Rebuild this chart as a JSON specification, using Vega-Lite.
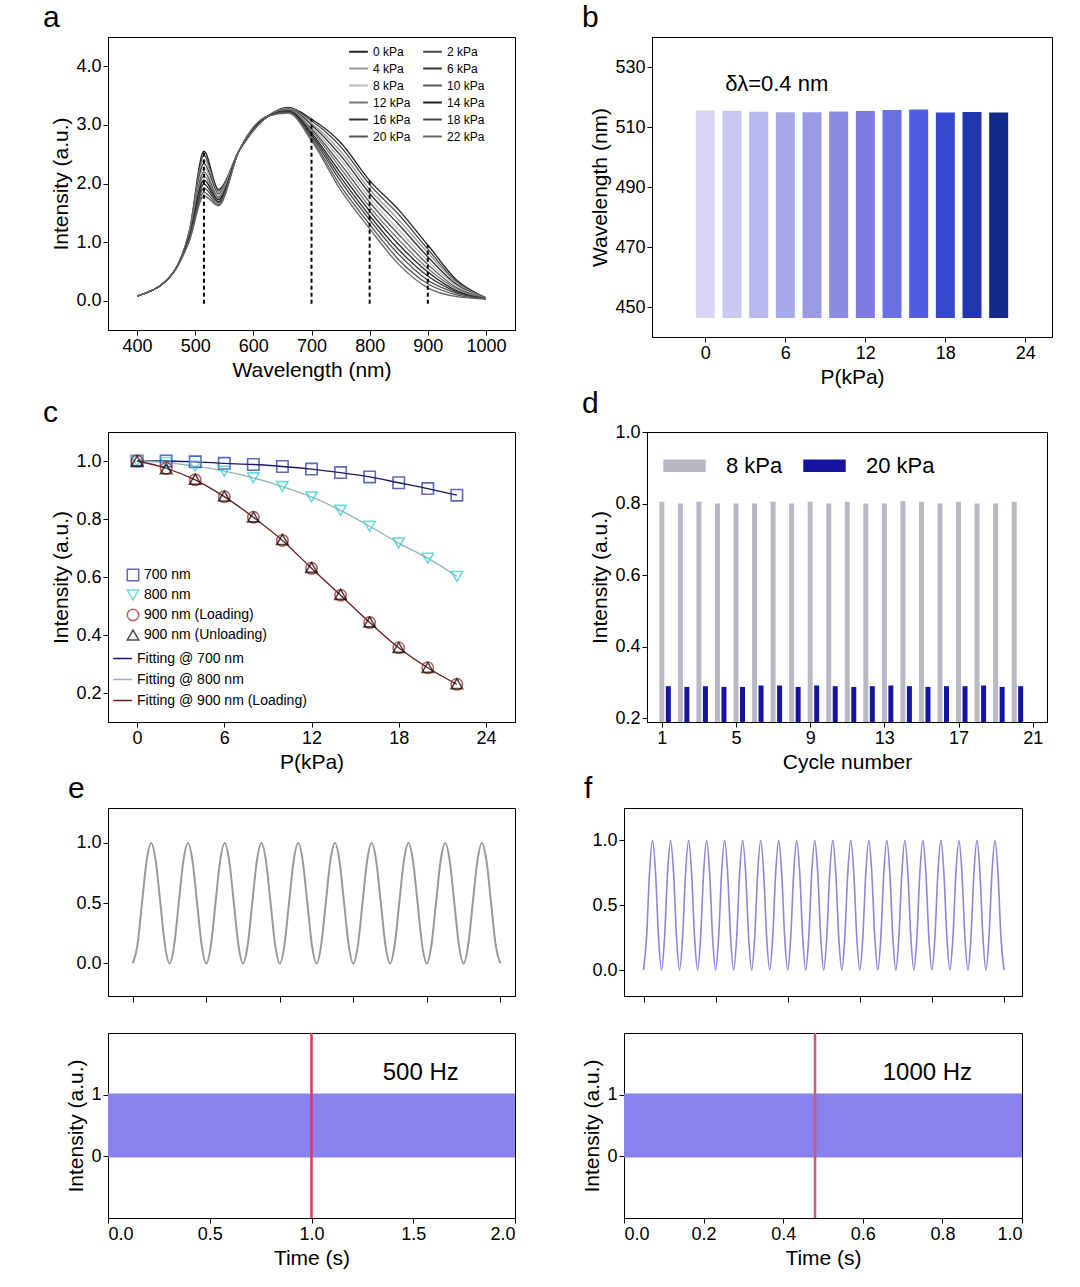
{
  "$schema": "https://vega.github.io/schema/vega-lite/v6.json",
  "background": "white",
  "padding": {"left": 42, "top": 2, "right": 5, "bottom": 2},
  "config": {
    "font": "Liberation Sans",
    "view": {"stroke": "#000", "strokeWidth": 1},
    "axis": {"grid": false, "domainColor": "#000", "tickColor": "#000", "labelColor": "#000", "titleColor": "#000", "labelFontSize": 18, "titleFontSize": 21, "titleFontWeight": "normal", "tickSize": 5, "titlePadding": 4},
    "title": {"fontSize": 30, "fontWeight": "normal", "anchor": "start", "dx": -8, "offset": 0},
    "legend": {"labelFontSize": 12, "title": null}
  },
  "spacing": 0,
  "resolve": {"scale": {"color": "independent", "shape": "independent"}},
  "vconcat": [
    {
      "spacing": 65,
      "resolve": {"scale": {"color": "independent"}},
      "hconcat": [
        {
          "title": "a",
          "width": 407, "height": 293,
          "layer": [
            {
              "data": {"values": [
                {"w":400,"0 kPa":0.08,"2 kPa":0.08,"4 kPa":0.08,"6 kPa":0.08,"8 kPa":0.08,"10 kPa":0.08,"12 kPa":0.08,"14 kPa":0.08,"16 kPa":0.08,"18 kPa":0.08,"20 kPa":0.08,"22 kPa":0.08},
                {"w":460,"0 kPa":0.45,"2 kPa":0.45,"4 kPa":0.45,"6 kPa":0.45,"8 kPa":0.45,"10 kPa":0.45,"12 kPa":0.45,"14 kPa":0.45,"16 kPa":0.45,"18 kPa":0.45,"20 kPa":0.45,"22 kPa":0.45},
                {"w":490,"0 kPa":1.2,"2 kPa":1.18,"4 kPa":1.17,"6 kPa":1.15,"8 kPa":1.13,"10 kPa":1.12,"12 kPa":1.1,"14 kPa":1.09,"16 kPa":1.07,"18 kPa":1.05,"20 kPa":1.04,"22 kPa":1.02},
                {"w":515,"0 kPa":2.55,"2 kPa":2.48,"4 kPa":2.41,"6 kPa":2.34,"8 kPa":2.27,"10 kPa":2.2,"12 kPa":2.13,"14 kPa":2.06,"16 kPa":1.99,"18 kPa":1.92,"20 kPa":1.85,"22 kPa":1.79},
                {"w":540,"0 kPa":1.9,"2 kPa":1.87,"4 kPa":1.85,"6 kPa":1.82,"8 kPa":1.8,"10 kPa":1.77,"12 kPa":1.74,"14 kPa":1.72,"16 kPa":1.69,"18 kPa":1.67,"20 kPa":1.64,"22 kPa":1.62},
                {"w":575,"0 kPa":2.55,"2 kPa":2.55,"4 kPa":2.55,"6 kPa":2.55,"8 kPa":2.55,"10 kPa":2.55,"12 kPa":2.55,"14 kPa":2.55,"16 kPa":2.55,"18 kPa":2.55,"20 kPa":2.55,"22 kPa":2.55},
                {"w":625,"0 kPa":3.15,"2 kPa":3.15,"4 kPa":3.15,"6 kPa":3.15,"8 kPa":3.15,"10 kPa":3.15,"12 kPa":3.15,"14 kPa":3.15,"16 kPa":3.15,"18 kPa":3.15,"20 kPa":3.15,"22 kPa":3.15},
                {"w":660,"0 kPa":3.3,"2 kPa":3.29,"4 kPa":3.28,"6 kPa":3.27,"8 kPa":3.26,"10 kPa":3.25,"12 kPa":3.25,"14 kPa":3.24,"16 kPa":3.23,"18 kPa":3.22,"20 kPa":3.21,"22 kPa":3.2},
                {"w":700,"0 kPa":3.1,"2 kPa":3.07,"4 kPa":3.03,"6 kPa":3.0,"8 kPa":2.96,"10 kPa":2.93,"12 kPa":2.9,"14 kPa":2.86,"16 kPa":2.83,"18 kPa":2.8,"20 kPa":2.76,"22 kPa":2.73},
                {"w":750,"0 kPa":2.7,"2 kPa":2.63,"4 kPa":2.55,"6 kPa":2.48,"8 kPa":2.41,"10 kPa":2.33,"12 kPa":2.26,"14 kPa":2.18,"16 kPa":2.11,"18 kPa":2.04,"20 kPa":1.96,"22 kPa":1.89},
                {"w":800,"0 kPa":2.05,"2 kPa":1.98,"4 kPa":1.9,"6 kPa":1.83,"8 kPa":1.75,"10 kPa":1.68,"12 kPa":1.6,"14 kPa":1.53,"16 kPa":1.45,"18 kPa":1.38,"20 kPa":1.3,"22 kPa":1.23},
                {"w":850,"0 kPa":1.55,"2 kPa":1.47,"4 kPa":1.38,"6 kPa":1.3,"8 kPa":1.21,"10 kPa":1.13,"12 kPa":1.04,"14 kPa":0.96,"16 kPa":0.87,"18 kPa":0.79,"20 kPa":0.7,"22 kPa":0.62},
                {"w":900,"0 kPa":0.95,"2 kPa":0.88,"4 kPa":0.82,"6 kPa":0.75,"8 kPa":0.68,"10 kPa":0.62,"12 kPa":0.55,"14 kPa":0.49,"16 kPa":0.42,"18 kPa":0.35,"20 kPa":0.29,"22 kPa":0.22},
                {"w":950,"0 kPa":0.35,"2 kPa":0.32,"4 kPa":0.3,"6 kPa":0.27,"8 kPa":0.25,"10 kPa":0.22,"12 kPa":0.2,"14 kPa":0.17,"16 kPa":0.15,"18 kPa":0.13,"20 kPa":0.1,"22 kPa":0.07},
                {"w":1000,"0 kPa":0.05,"2 kPa":0.05,"4 kPa":0.04,"6 kPa":0.04,"8 kPa":0.04,"10 kPa":0.04,"12 kPa":0.04,"14 kPa":0.03,"16 kPa":0.03,"18 kPa":0.03,"20 kPa":0.03,"22 kPa":0.03}
              ]},
              "transform": [{"fold": ["0 kPa","2 kPa","4 kPa","6 kPa","8 kPa","10 kPa","12 kPa","14 kPa","16 kPa","18 kPa","20 kPa","22 kPa"]}],
              "mark": {"type": "line", "strokeWidth": 1.3, "interpolate": "monotone"},
              "encoding": {
                "x": {"field": "w", "type": "quantitative", "scale": {"domain": [392, 1025]}, "axis": {"values": [400,500,600,700,800,900,1000], "format": "d"}, "title": "Wavelength (nm)"},
                "y": {"field": "value", "type": "quantitative", "scale": {"domain": [-0.05, 4.1]}, "axis": {"values": [0,1,2,3,4], "format": ".1f"}, "title": "Intensity (a.u.)"},
                "color": {"field": "key", "type": "nominal",
                  "scale": {"domain": ["0 kPa","4 kPa","8 kPa","12 kPa","16 kPa","20 kPa","2 kPa","6 kPa","10 kPa","14 kPa","18 kPa","22 kPa"], "range": ["#222","#999","#bbb","#777","#333","#555","#444","#333","#555","#222","#444","#666"]},
                  "legend": {"orient": "none", "legendX": 240, "legendY": 4, "columns": 2, "symbolType": "stroke", "symbolSize": 350, "symbolStrokeWidth": 2, "rowPadding": 0, "columnPadding": 8, "labelFontSize": 12}}
              }
            },
            {
              "data": {"values": [{"w":515,"lo":-0.05,"top":2.55},{"w":700,"lo":-0.05,"top":3.1},{"w":800,"lo":-0.05,"top":2.05},{"w":900,"lo":-0.05,"top":0.95}]},
              "mark": {"type": "rule", "strokeDash": [4, 3], "strokeWidth": 2, "color": "#000"},
              "encoding": {"x": {"field": "w", "type": "quantitative"}, "y": {"field": "lo", "type": "quantitative"}, "y2": {"field": "top"}}
            }
          ]
        },
        {
          "title": "b",
          "width": 400, "height": 300,
          "layer": [
            {
              "data": {"values": [
                {"p":0,"v":515.5,"b":446.3},{"p":2,"v":515.4,"b":446.3},{"p":4,"v":515.1,"b":446.3},{"p":6,"v":514.9,"b":446.3},{"p":8,"v":514.9,"b":446.3},{"p":10,"v":515.2,"b":446.3},
                {"p":12,"v":515.3,"b":446.3},{"p":14,"v":515.7,"b":446.3},{"p":16,"v":515.8,"b":446.3},{"p":18,"v":514.8,"b":446.3},{"p":20,"v":515.0,"b":446.3},{"p":22,"v":514.8,"b":446.3}
              ]},
              "mark": {"type": "bar", "size": 19, "clip": true},
              "encoding": {
                "x": {"field": "p", "type": "quantitative", "scale": {"domain": [-1.7, 24.3]}, "axis": {"values": [0,6,12,18,24]}, "title": "P(kPa)"},
                "y": {"field": "v", "type": "quantitative", "scale": {"domain": [446.3, 532], "zero": false}, "axis": {"values": [450,470,490,510,530]}, "title": "Wavelength (nm)"},
                "y2": {"field": "b"},
                "color": {"field": "p", "type": "ordinal", "legend": null,
                  "scale": {"range": ["#d8d8f4","#c8c8f0","#b8b8ee","#a8a8ea","#9a9ae6","#8c8ce0","#7c7ce0","#6a70e0","#4f5ee0","#3548d0","#2036b0","#142a8a"]}}
              }
            },
            {
              "data": {"values": [{"p":1.5,"v":524.5,"s":"δλ=0.4 nm"}]},
              "mark": {"type": "text", "fontSize": 22, "align": "left"},
              "encoding": {"x": {"field": "p", "type": "quantitative"}, "y": {"field": "v", "type": "quantitative"}, "text": {"field": "s"}}
            }
          ]
        }
      ]
    },
    {
      "spacing": 65,
      "resolve": {"scale": {"color": "independent", "shape": "independent"}},
      "hconcat": [
        {
          "title": "c",
          "width": 407, "height": 290,
          "data": {"values": [
            {"p":0,"s":"700 nm","f":"Fitting @ 700 nm","v":1.0},{"p":2,"s":"700 nm","f":"Fitting @ 700 nm","v":1.0},{"p":4,"s":"700 nm","f":"Fitting @ 700 nm","v":0.997},{"p":6,"s":"700 nm","f":"Fitting @ 700 nm","v":0.992},{"p":8,"s":"700 nm","f":"Fitting @ 700 nm","v":0.988},{"p":10,"s":"700 nm","f":"Fitting @ 700 nm","v":0.981},{"p":12,"s":"700 nm","f":"Fitting @ 700 nm","v":0.972},{"p":14,"s":"700 nm","f":"Fitting @ 700 nm","v":0.96},{"p":16,"s":"700 nm","f":"Fitting @ 700 nm","v":0.945},{"p":18,"s":"700 nm","f":"Fitting @ 700 nm","v":0.925},{"p":20,"s":"700 nm","f":"Fitting @ 700 nm","v":0.905},{"p":22,"s":"700 nm","f":"Fitting @ 700 nm","v":0.882},
            {"p":0,"s":"800 nm","f":"Fitting @ 800 nm","v":1.0},{"p":2,"s":"800 nm","f":"Fitting @ 800 nm","v":0.995},{"p":4,"s":"800 nm","f":"Fitting @ 800 nm","v":0.982},{"p":6,"s":"800 nm","f":"Fitting @ 800 nm","v":0.965},{"p":8,"s":"800 nm","f":"Fitting @ 800 nm","v":0.942},{"p":10,"s":"800 nm","f":"Fitting @ 800 nm","v":0.912},{"p":12,"s":"800 nm","f":"Fitting @ 800 nm","v":0.876},{"p":14,"s":"800 nm","f":"Fitting @ 800 nm","v":0.83},{"p":16,"s":"800 nm","f":"Fitting @ 800 nm","v":0.775},{"p":18,"s":"800 nm","f":"Fitting @ 800 nm","v":0.717},{"p":20,"s":"800 nm","f":"Fitting @ 800 nm","v":0.665},{"p":22,"s":"800 nm","f":"Fitting @ 800 nm","v":0.602},
            {"p":0,"s":"900 nm (Loading)","f":"Fitting @ 900 nm (Loading)","v":1.0},{"p":2,"s":"900 nm (Loading)","f":"Fitting @ 900 nm (Loading)","v":0.975},{"p":4,"s":"900 nm (Loading)","f":"Fitting @ 900 nm (Loading)","v":0.935},{"p":6,"s":"900 nm (Loading)","f":"Fitting @ 900 nm (Loading)","v":0.877},{"p":8,"s":"900 nm (Loading)","f":"Fitting @ 900 nm (Loading)","v":0.806},{"p":10,"s":"900 nm (Loading)","f":"Fitting @ 900 nm (Loading)","v":0.726},{"p":12,"s":"900 nm (Loading)","f":"Fitting @ 900 nm (Loading)","v":0.63},{"p":14,"s":"900 nm (Loading)","f":"Fitting @ 900 nm (Loading)","v":0.537},{"p":16,"s":"900 nm (Loading)","f":"Fitting @ 900 nm (Loading)","v":0.443},{"p":18,"s":"900 nm (Loading)","f":"Fitting @ 900 nm (Loading)","v":0.356},{"p":20,"s":"900 nm (Loading)","f":"Fitting @ 900 nm (Loading)","v":0.287},{"p":22,"s":"900 nm (Loading)","f":"Fitting @ 900 nm (Loading)","v":0.23},
            {"p":0,"s":"900 nm (Unloading)","v":1.0},{"p":2,"s":"900 nm (Unloading)","v":0.973},{"p":4,"s":"900 nm (Unloading)","v":0.937},{"p":6,"s":"900 nm (Unloading)","v":0.879},{"p":8,"s":"900 nm (Unloading)","v":0.807},{"p":10,"s":"900 nm (Unloading)","v":0.729},{"p":12,"s":"900 nm (Unloading)","v":0.633},{"p":14,"s":"900 nm (Unloading)","v":0.54},{"p":16,"s":"900 nm (Unloading)","v":0.445},{"p":18,"s":"900 nm (Unloading)","v":0.357},{"p":20,"s":"900 nm (Unloading)","v":0.288},{"p":22,"s":"900 nm (Unloading)","v":0.232}
          ]},
          "layer": [
            {
              "transform": [{"filter": "datum.f != null"}],
              "mark": {"type": "line", "strokeWidth": 1.3, "interpolate": "monotone"},
              "encoding": {
                "x": {"field": "p", "type": "quantitative", "scale": {"domain": [-1.4, 24.5]}, "axis": {"values": [0,6,12,18,24]}, "title": "P(kPa)"},
                "y": {"field": "v", "type": "quantitative", "scale": {"domain": [0.175, 1.05]}, "axis": {"values": [0.2,0.4,0.6,0.8,1.0], "format": ".1f"}, "title": "Intensity (a.u.)"},
                "color": {"field": "f", "type": "nominal",
                  "scale": {"domain": ["Fitting @ 700 nm","Fitting @ 800 nm","Fitting @ 900 nm (Loading)"], "range": ["#1a1a60","#8fb8b8","#6a1a1a"]},
                  "legend": {"orient": "none", "legendX": 4, "legendY": 216, "symbolType": "stroke", "symbolSize": 350, "symbolStrokeWidth": 1.5, "labelFontSize": 14, "rowPadding": 3, "labelLimit": 300}}
              }
            },
            {
              "mark": {"type": "point", "filled": false, "size": 130, "strokeWidth": 1.6},
              "encoding": {
                "x": {"field": "p", "type": "quantitative"},
                "y": {"field": "v", "type": "quantitative"},
                "color": {"field": "s", "type": "nominal",
                  "scale": {"domain": ["700 nm","800 nm","900 nm (Loading)","900 nm (Unloading)"], "range": ["#1f28a0","#30cccc","#a01c1c","#000"]},
                  "legend": {"orient": "none", "legendX": 18, "legendY": 136, "labelFontSize": 14, "symbolSize": 130, "rowPadding": 3, "labelLimit": 300}},
                "shape": {"field": "s", "type": "nominal",
                  "scale": {"domain": ["700 nm","800 nm","900 nm (Loading)","900 nm (Unloading)"], "range": ["square","triangle-down","circle","triangle-up"]}}
              }
            }
          ],
          "resolve": {"scale": {"color": "independent", "shape": "independent"}}
        },
        {
          "title": "d",
          "width": 400, "height": 290,
          "data": {"values": [
            {"x":1,"k":"8 kPa","v":0.805},{"x":2,"k":"8 kPa","v":0.8},{"x":3,"k":"8 kPa","v":0.805},{"x":4,"k":"8 kPa","v":0.8},{"x":5,"k":"8 kPa","v":0.8},{"x":6,"k":"8 kPa","v":0.8},{"x":7,"k":"8 kPa","v":0.805},{"x":8,"k":"8 kPa","v":0.8},{"x":9,"k":"8 kPa","v":0.805},{"x":10,"k":"8 kPa","v":0.8},{"x":11,"k":"8 kPa","v":0.805},{"x":12,"k":"8 kPa","v":0.8},{"x":13,"k":"8 kPa","v":0.8},{"x":14,"k":"8 kPa","v":0.807},{"x":15,"k":"8 kPa","v":0.805},{"x":16,"k":"8 kPa","v":0.8},{"x":17,"k":"8 kPa","v":0.805},{"x":18,"k":"8 kPa","v":0.8},{"x":19,"k":"8 kPa","v":0.8},{"x":20,"k":"8 kPa","v":0.805},
            {"x":1.35,"k":"20 kPa","v":0.29},{"x":2.35,"k":"20 kPa","v":0.288},{"x":3.35,"k":"20 kPa","v":0.29},{"x":4.35,"k":"20 kPa","v":0.288},{"x":5.35,"k":"20 kPa","v":0.288},{"x":6.35,"k":"20 kPa","v":0.292},{"x":7.35,"k":"20 kPa","v":0.292},{"x":8.35,"k":"20 kPa","v":0.288},{"x":9.35,"k":"20 kPa","v":0.292},{"x":10.35,"k":"20 kPa","v":0.29},{"x":11.35,"k":"20 kPa","v":0.288},{"x":12.35,"k":"20 kPa","v":0.29},{"x":13.35,"k":"20 kPa","v":0.292},{"x":14.35,"k":"20 kPa","v":0.29},{"x":15.35,"k":"20 kPa","v":0.288},{"x":16.35,"k":"20 kPa","v":0.29},{"x":17.35,"k":"20 kPa","v":0.29},{"x":18.35,"k":"20 kPa","v":0.292},{"x":19.35,"k":"20 kPa","v":0.288},{"x":20.35,"k":"20 kPa","v":0.29}
          ]},
          "mark": {"type": "bar", "size": 5, "clip": true},
          "encoding": {
            "x": {"field": "x", "type": "quantitative", "scale": {"domain": [0.47, 21.5]}, "axis": {"values": [1,5,9,13,17,21]}, "title": "Cycle number"},
            "y": {"field": "v", "type": "quantitative", "scale": {"domain": [0.19, 1.0], "zero": false}, "axis": {"values": [0.2,0.4,0.6,0.8,1.0], "format": ".1f"}, "title": "Intensity (a.u.)"},
            "color": {"field": "k", "type": "nominal",
              "scale": {"domain": ["8 kPa","20 kPa"], "range": ["#b9b9c6","#1414a0"]},
              "legend": {"orient": "none", "legendX": 26, "legendY": 22, "direction": "horizontal", "labelFontSize": 22, "symbolType": "M-2,-0.6L2,-0.6L2,0.6L-2,0.6Z", "symbolSize": 450, "columnPadding": 20, "labelOffset": 30}}
          }
        }
      ]
    },
    {
      "spacing": 65,
      "hconcat": [
        {
          "spacing": 28,
          "vconcat": [
            {
              "title": "e",
              "width": 407, "height": 188,
              "data": {"values": [
                {"v":0},{"v":0.15},{"v":0.5},{"v":0.85},{"v":1},{"v":0.85},{"v":0.5},{"v":0.15},
                {"v":0},{"v":0.15},{"v":0.5},{"v":0.85},{"v":1},{"v":0.85},{"v":0.5},{"v":0.15},
                {"v":0},{"v":0.15},{"v":0.5},{"v":0.85},{"v":1},{"v":0.85},{"v":0.5},{"v":0.15},
                {"v":0},{"v":0.15},{"v":0.5},{"v":0.85},{"v":1},{"v":0.85},{"v":0.5},{"v":0.15},
                {"v":0},{"v":0.15},{"v":0.5},{"v":0.85},{"v":1},{"v":0.85},{"v":0.5},{"v":0.15},
                {"v":0},{"v":0.15},{"v":0.5},{"v":0.85},{"v":1},{"v":0.85},{"v":0.5},{"v":0.15},
                {"v":0},{"v":0.15},{"v":0.5},{"v":0.85},{"v":1},{"v":0.85},{"v":0.5},{"v":0.15},
                {"v":0},{"v":0.15},{"v":0.5},{"v":0.85},{"v":1},{"v":0.85},{"v":0.5},{"v":0.15},
                {"v":0},{"v":0.15},{"v":0.5},{"v":0.85},{"v":1},{"v":0.85},{"v":0.5},{"v":0.15},
                {"v":0},{"v":0.15},{"v":0.5},{"v":0.85},{"v":1},{"v":0.85},{"v":0.5},{"v":0.15},
                {"v":0}
              ]},
              "transform": [{"window": [{"op": "row_number", "as": "i"}]}],
              "mark": {"type": "line", "color": "#999", "strokeWidth": 2, "interpolate": "monotone"},
              "encoding": {
                "x": {"field": "i", "type": "quantitative", "scale": {"domain": [-4.4, 84.2]}, "axis": {"labels": false, "values": [1,17,33,49,65,81], "tickSize": 6}, "title": null},
                "y": {"field": "v", "type": "quantitative", "scale": {"domain": [-0.27, 1.29]}, "axis": {"values": [0,0.5,1], "format": ".1f"}, "title": null}
              }
            },
            {
              "width": 407, "height": 185,
              "layer": [
                {
                  "data": {"values": [{"t":0,"lo":-0.02,"hi":1.02},{"t":2,"lo":-0.02,"hi":1.02}]},
                  "mark": {"type": "area", "color": "#8a80ee"},
                  "encoding": {
                    "x": {"field": "t", "type": "quantitative", "scale": {"domain": [0, 2]}, "axis": {"values": [0,0.5,1,1.5,2], "format": ".1f"}, "title": "Time (s)"},
                    "y": {"field": "hi", "type": "quantitative", "scale": {"domain": [-0.83, 1.86]}, "axis": {"values": [0,1], "format": "d"}, "title": "Intensity (a.u.)"},
                    "y2": {"field": "lo"}
                  }
                },
                {
                  "data": {"values": [{"t":1}]},
                  "mark": {"type": "rule", "color": "#e8365a", "strokeWidth": 2.5},
                  "encoding": {"x": {"field": "t", "type": "quantitative"}}
                },
                {
                  "data": {"values": [{"t":1.35,"y":1.35,"s":"500 Hz"}]},
                  "mark": {"type": "text", "fontSize": 24, "align": "left"},
                  "encoding": {"x": {"field": "t", "type": "quantitative"}, "y": {"field": "y", "type": "quantitative"}, "text": {"field": "s"}}
                }
              ]
            }
          ]
        },
        {
          "spacing": 28,
          "vconcat": [
            {
              "title": "f",
              "width": 398, "height": 188,
              "data": {"values": [
                {"v":0},{"v":0.25},{"v":0.75},{"v":1},{"v":0.75},{"v":0.25},{"v":0},{"v":0.25},{"v":0.75},{"v":1},{"v":0.75},{"v":0.25},
                {"v":0},{"v":0.25},{"v":0.75},{"v":1},{"v":0.75},{"v":0.25},{"v":0},{"v":0.25},{"v":0.75},{"v":1},{"v":0.75},{"v":0.25},
                {"v":0},{"v":0.25},{"v":0.75},{"v":1},{"v":0.75},{"v":0.25},{"v":0},{"v":0.25},{"v":0.75},{"v":1},{"v":0.75},{"v":0.25},
                {"v":0},{"v":0.25},{"v":0.75},{"v":1},{"v":0.75},{"v":0.25},{"v":0},{"v":0.25},{"v":0.75},{"v":1},{"v":0.75},{"v":0.25},
                {"v":0},{"v":0.25},{"v":0.75},{"v":1},{"v":0.75},{"v":0.25},{"v":0},{"v":0.25},{"v":0.75},{"v":1},{"v":0.75},{"v":0.25},
                {"v":0},{"v":0.25},{"v":0.75},{"v":1},{"v":0.75},{"v":0.25},{"v":0},{"v":0.25},{"v":0.75},{"v":1},{"v":0.75},{"v":0.25},
                {"v":0},{"v":0.25},{"v":0.75},{"v":1},{"v":0.75},{"v":0.25},{"v":0},{"v":0.25},{"v":0.75},{"v":1},{"v":0.75},{"v":0.25},
                {"v":0},{"v":0.25},{"v":0.75},{"v":1},{"v":0.75},{"v":0.25},{"v":0},{"v":0.25},{"v":0.75},{"v":1},{"v":0.75},{"v":0.25},
                {"v":0},{"v":0.25},{"v":0.75},{"v":1},{"v":0.75},{"v":0.25},{"v":0},{"v":0.25},{"v":0.75},{"v":1},{"v":0.75},{"v":0.25},
                {"v":0},{"v":0.25},{"v":0.75},{"v":1},{"v":0.75},{"v":0.25},{"v":0},{"v":0.25},{"v":0.75},{"v":1},{"v":0.75},{"v":0.25},
                {"v":0}
              ]},
              "transform": [{"window": [{"op": "row_number", "as": "i"}]}],
              "mark": {"type": "line", "color": "#8c86dc", "strokeWidth": 1.6, "interpolate": "monotone"},
              "encoding": {
                "x": {"field": "i", "type": "quantitative", "scale": {"domain": [-5.5, 127]}, "axis": {"labels": false, "values": [1,25,49,73,97,121], "tickSize": 6}, "title": null},
                "y": {"field": "v", "type": "quantitative", "scale": {"domain": [-0.2, 1.25]}, "axis": {"values": [0,0.5,1], "format": ".1f"}, "title": null}
              }
            },
            {
              "width": 398, "height": 185,
              "layer": [
                {
                  "data": {"values": [{"t":0,"lo":-0.02,"hi":1.02},{"t":1,"lo":-0.02,"hi":1.02}]},
                  "mark": {"type": "area", "color": "#8a80ee"},
                  "encoding": {
                    "x": {"field": "t", "type": "quantitative", "scale": {"domain": [0, 1]}, "axis": {"values": [0,0.2,0.4,0.6,0.8,1], "format": ".1f"}, "title": "Time (s)"},
                    "y": {"field": "hi", "type": "quantitative", "scale": {"domain": [-0.83, 1.86]}, "axis": {"values": [0,1], "format": "d"}, "title": "Intensity (a.u.)"},
                    "y2": {"field": "lo"}
                  }
                },
                {
                  "data": {"values": [{"t":0.48}]},
                  "mark": {"type": "rule", "color": "#c85a7a", "strokeWidth": 2.5},
                  "encoding": {"x": {"field": "t", "type": "quantitative"}}
                },
                {
                  "data": {"values": [{"t":0.65,"y":1.35,"s":"1000 Hz"}]},
                  "mark": {"type": "text", "fontSize": 24, "align": "left"},
                  "encoding": {"x": {"field": "t", "type": "quantitative"}, "y": {"field": "y", "type": "quantitative"}, "text": {"field": "s"}}
                }
              ]
            }
          ]
        }
      ]
    }
  ]
}
